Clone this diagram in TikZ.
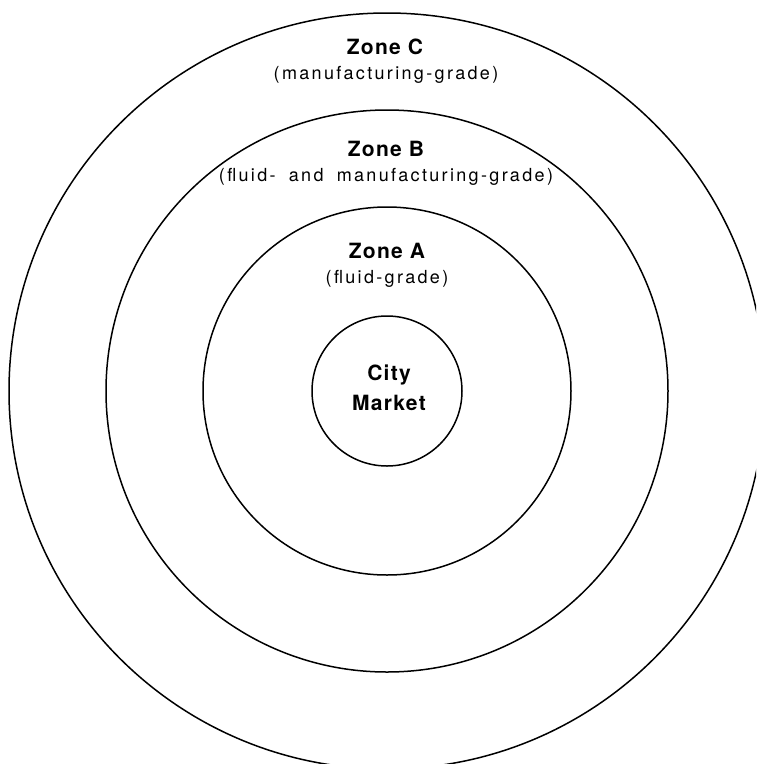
\documentclass[tikz,border=0pt]{standalone}
\usepackage{fontspec}
\setmainfont{TeX Gyre Heros}
\newfontfamily\titlefont[LetterSpace=6]{TeX Gyre Heros}
\newfontfamily\notefont[LetterSpace=13,WordSpace=1.8]{TeX Gyre Heros}
\begin{document}
\begin{tikzpicture}[x=1pt,y=-1pt,
  ring/.style={circle, draw=black, line width=1.5pt, inner sep=0pt},
  title/.style={anchor=base, inner sep=0pt, font=\titlefont\bfseries\fontsize{21}{25}\selectfont},
  note/.style={anchor=base, inner sep=0pt, font=\notefont\fontsize{18}{22}\selectfont}]
\clip (0,0) rectangle (756,764);
\fill[white] (0,0) rectangle (756,764);
\node[ring, minimum size=756pt] (outer) at (387,391) {};
\node[ring, minimum size=562pt] (zoneB) at (387,391) {};
\node[ring, minimum size=368pt] (zoneA) at (387,391) {};
\node[ring, minimum size=150pt] (city) at (387,391) {};
\node[title] (tC) at (385,54) {Zone C};
\node[note] (nC) at (386,79) {(manufacturing-grade)};
\node[title] (tB) at (386,156) {Zone B};
\node[note] (nB) at (386,181) {(fluid- and manufacturing-grade)};
\node[title] (tA) at (387,258) {Zone A};
\node[note] (nA) at (387,283) {(fluid-grade)};
\node[title] (tCity) at (389,380) {City};
\node[title] (tMarket) at (389,410) {Market};
\end{tikzpicture}
\end{document}
